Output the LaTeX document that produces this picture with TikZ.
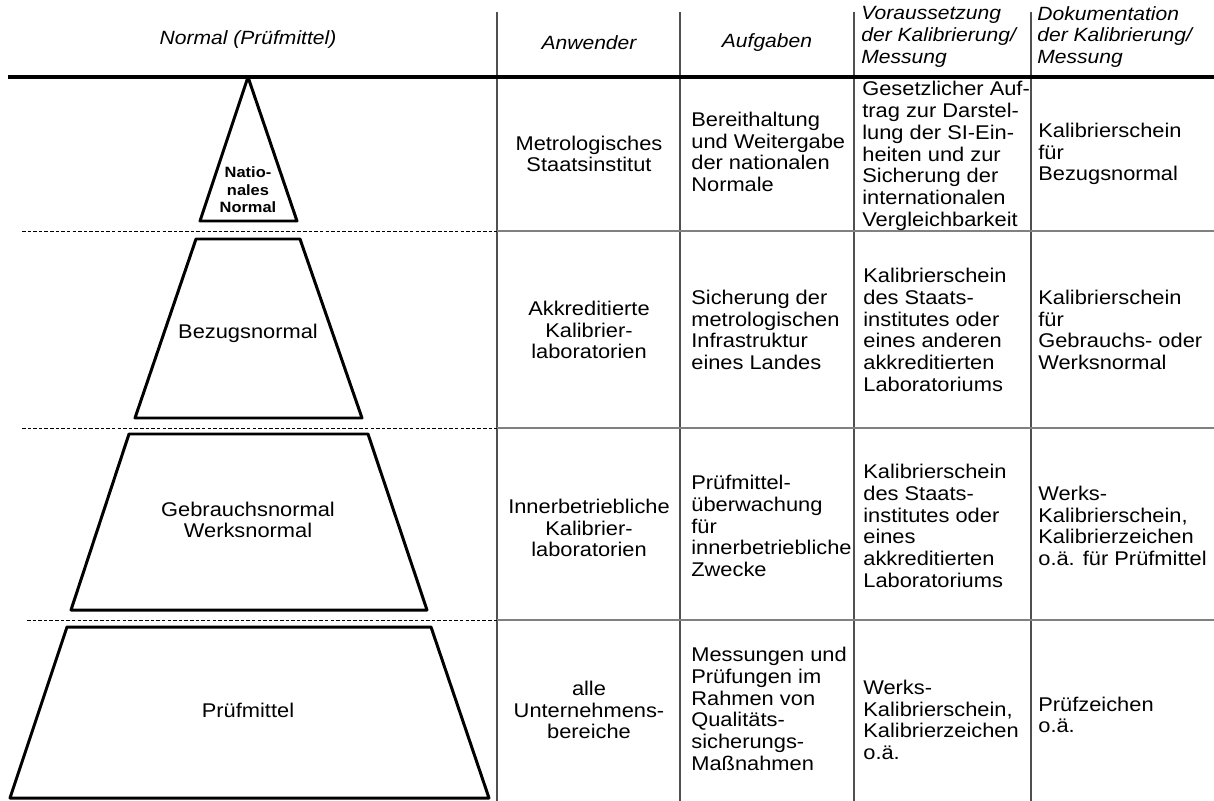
\documentclass[tikz,border=0pt]{standalone}
\usepackage{fontspec}
\setmainfont{Liberation Sans}[FakeStretch=1.1]
\usetikzlibrary{positioning}
\definecolor{gridline}{HTML}{505050}
\definecolor{rowline}{HTML}{808080}

\begin{document}
\begin{tikzpicture}[x=0.02cm, y=-0.02cm,
    every node/.style={inner sep=0pt, font=\fontsize{11.3}{12.4}\selectfont},
    head/.style={font=\fontsize{10.9}{12.4}\selectfont\itshape},
    cell/.style={anchor=west, align=left},
    ccell/.style={align=center},
    level/.style={draw=black, line width=1.7pt, line join=round},
    sep/.style={dash pattern=on 2pt off 1.2pt, line width=0.5pt}]
    \useasboundingbox (0,0) rectangle (1214,801);

    % column rules and row rules
    \foreach \cx in {497,680,854,1031}
      \draw[gridline, line width=0.6pt] (\cx,12) -- (\cx,801);
    \draw[line width=1.8pt] (8,77) -- (1214,77);
    \foreach \ry/\rx in {231/22,428/22,620/27} {
      \draw[sep] (\rx,\ry) -- (497,\ry);
      \draw[rowline, line width=0.9pt] (497,\ry) -- (1214,\ry);
    }

    % header
    \node[head] (hnorm) at (248,40) {Normal (Prüfmittel)};
    \node[head] (hanw) at (589,43) {Anwender};
    \node[head] (hauf) at (767,43) {Aufgaben};
    \node[head, cell] (hvor) at (861,37)
      {Voraussetzung\\der Kalibrierung/\\Messung};
    \node[head, cell] (hdok) at (1037,37)
      {Dokumentation\\der Kalibrierung/\\Messung};

    % pyramid
    \draw[level] (248,77) -- (297,221) -- (200,221) -- cycle;
    \draw[level] (196,239) -- (300,239) -- (362,418) -- (135,418) -- cycle;
    \draw[level] (129,434) -- (368,434) -- (427,610) -- (71,610) -- cycle;
    \draw[level] (67,627) -- (431,627) -- (489,798) -- (10,798) -- cycle;
    \node[ccell, font=\fontsize{8.5}{10}\selectfont\bfseries] (nat) at (248,190)
      {Natio-\\nales\\Normal};
    \node (bez) at (248,333) {Bezugsnormal};
    \node[ccell] (geb) at (248,520) {Gebrauchsnormal\\Werksnormal};
    \node (pm) at (248,710) {Prüfmittel};

    % Anwender
    \node[ccell] (a1) at (589,154) {Metrologisches\\Staatsinstitut};
    \node[ccell] (a2) at (589,330) {Akkreditierte\\Kalibrier-\\laboratorien};
    \node[ccell] (a3) at (589,528) {Innerbetriebliche\\Kalibrier-\\laboratorien};
    \node[ccell] (a4) at (589,710) {alle\\Unternehmens-\\bereiche};

    % Aufgaben
    \node[cell] (b1) at (691,152)
      {Bereithaltung\\und Weitergabe\\der nationalen\\Normale};
    \node[cell] (b2) at (691,330)
      {Sicherung der\\metrologischen\\Infrastruktur\\eines Landes};
    \node[cell] (b3) at (691,526)
      {Prüfmittel-\\überwachung\\für\\innerbetriebliche\\Zwecke};
    \node[cell] (b4) at (691,709)
      {Messungen und\\Prüfungen im\\Rahmen von\\Qualitäts-\\sicherungs-\\Maßnahmen};

    % Voraussetzung
    \node[cell] (c1) at (862,156)
      {Gesetzlicher Auf-\\trag zur Darstel-\\lung der SI-Ein-\\heiten und zur\\Sicherung der\\internationalen\\Vergleichbarkeit};
    \node[cell] (c2) at (863,330)
      {Kalibrierschein\\des Staats-\\institutes oder\\eines anderen\\akkreditierten\\Laboratoriums};
    \node[cell] (c3) at (863,526)
      {Kalibrierschein\\des Staats-\\institutes oder\\eines\\akkreditierten\\Laboratoriums};
    \node[cell] (c4) at (863,720)
      {Werks-\\Kalibrierschein,\\Kalibrierzeichen\\o.ä.};

    % Dokumentation
    \node[cell] (d1) at (1038,154) {Kalibrierschein\\für\\Bezugsnormal};
    \node[cell] (d2) at (1038,330)
      {Kalibrierschein\\für\\Gebrauchs- oder\\Werksnormal};
    \node[cell] (d3) at (1038,526)
      {Werks-\\Kalibrierschein,\\Kalibrierzeichen\\o.ä. für Prüfmittel};
    \node[cell] (d4) at (1038,715) {Prüfzeichen\\o.ä.};
\end{tikzpicture}
\end{document}
